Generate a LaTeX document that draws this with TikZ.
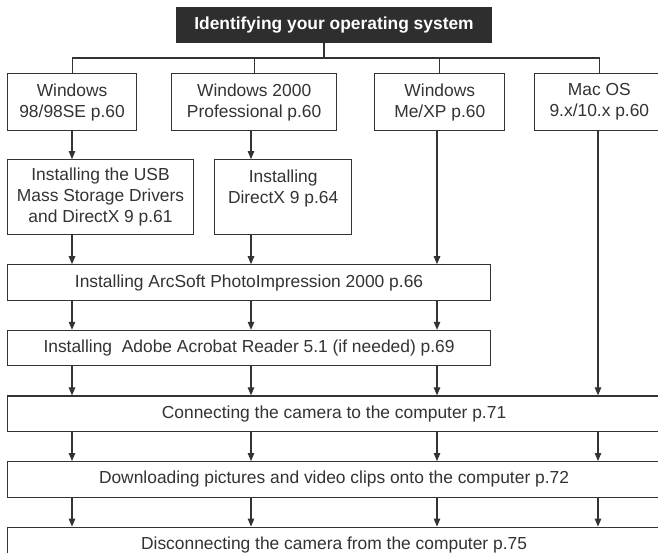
\documentclass[tikz,border=0pt]{standalone}
\usepackage{fontspec}
\setmainfont{Liberation Sans}
\usepackage{tikz}
\usetikzlibrary{arrows.meta, positioning, calc}
\definecolor{inkgray}{HTML}{333333}
\definecolor{titlegray}{HTML}{2E2E2E}

\begin{document}
\begin{tikzpicture}[
  x=1pt, y=-1pt,
  node distance=29pt and 34pt,
  box/.style={rectangle, draw=inkgray, line width=1.1pt, align=center, text=inkgray,
              font=\fontsize{17.4}{21}\selectfont, inner sep=0pt, fill=white},
  osbox/.style={box, minimum height=57pt},
  stepbox/.style={box, minimum height=75pt},
  barbox/.style={box, minimum height=35.5pt},
  titlebox/.style={rectangle, fill=titlegray, text=white, minimum width=316pt,
              minimum height=36pt, font=\fontsize{17.4}{21}\selectfont\bfseries},
  line/.style={draw=inkgray, line width=1.1pt},
  arrow/.style={line, ->, >={Triangle[length=8pt,width=6.5pt]}}
]
\useasboundingbox (0,0) rectangle (658,552);
\clip (0,0) rectangle (658,552);
\fill[white] (0,0) rectangle (658,552);

% Title
\node[titlebox] (title) at (334,25) {Identifying your operating system};

% Operating systems
\node[osbox, minimum width=129pt, anchor=north west] (win98) at (7,73) {Windows\\98/98SE p.60};
\node[osbox, minimum width=165pt, right=34pt of win98] (win2000) {Windows 2000\\Professional p.60};
\node[osbox, minimum width=130pt, right=37pt of win2000] (winme) {Windows\\Me/XP p.60};
\node[osbox, minimum width=129pt, right=29pt of winme] (mac) {Mac OS\\9.x/10.x p.60};

% Drivers
\node[stepbox, minimum width=186pt, below=28pt of win98.south west, anchor=north west] (usb)
  {Installing the USB\\Mass Storage Drivers\\and DirectX 9 p.61};
\node[stepbox, minimum width=137pt, right=20pt of usb] (dx) {Installing\\DirectX 9 p.64\\~};

% Software
\node[barbox, minimum width=483pt, below=29pt of usb.south west, anchor=north west] (arcsoft)
  {Installing ArcSoft PhotoImpression 2000 p.66};
\node[barbox, minimum width=483pt, below=of arcsoft] (acrobat)
  {Installing\ \ Adobe Acrobat Reader 5.1 (if needed) p.69};

% Camera
\node[barbox, minimum width=653pt, below=29pt of acrobat.south west, anchor=north west] (connect)
  {Connecting the camera to the computer p.71};
\node[barbox, minimum width=653pt, below=of connect] (download)
  {Downloading pictures and video clips onto the computer p.72};
\node[barbox, minimum width=653pt, below=of download] (disconnect)
  {Disconnecting the camera from the computer p.75};

% Columns
\coordinate (split) at (324,58);
\coordinate (c1) at (72,0);
\coordinate (c2) at (251,0);
\coordinate (c3) at (437,0);
\coordinate (c4) at (598,0);

% Edges
\draw[line] (title.south -| split) -- (split);
\draw[line] (win98.north) |- (split) -| (mac.north);
\draw[line] (win2000.north) -- (win2000.north |- split);
\draw[line] (winme.north) -- (winme.north |- split);
\draw[arrow] (c1 |- win98.south) -- (c1 |- usb.north);
\draw[arrow] (c2 |- win2000.south) -- (c2 |- dx.north);
\draw[arrow] (c1 |- usb.south) -- (c1 |- arcsoft.north);
\draw[arrow] (c2 |- dx.south) -- (c2 |- arcsoft.north);
\draw[arrow] (c3 |- winme.south) -- (c3 |- arcsoft.north);
\foreach \c in {c1,c2,c3} {
  \draw[arrow] (\c |- arcsoft.south) -- (\c |- acrobat.north);
  \draw[arrow] (\c |- acrobat.south) -- (\c |- connect.north);
}
\draw[arrow] (c4 |- mac.south) -- (c4 |- connect.north);
\foreach \c in {c1,c2,c3,c4} {
  \draw[arrow] (\c |- connect.south) -- (\c |- download.north);
  \draw[arrow] (\c |- download.south) -- (\c |- disconnect.north);
}
\end{tikzpicture}
\end{document}
